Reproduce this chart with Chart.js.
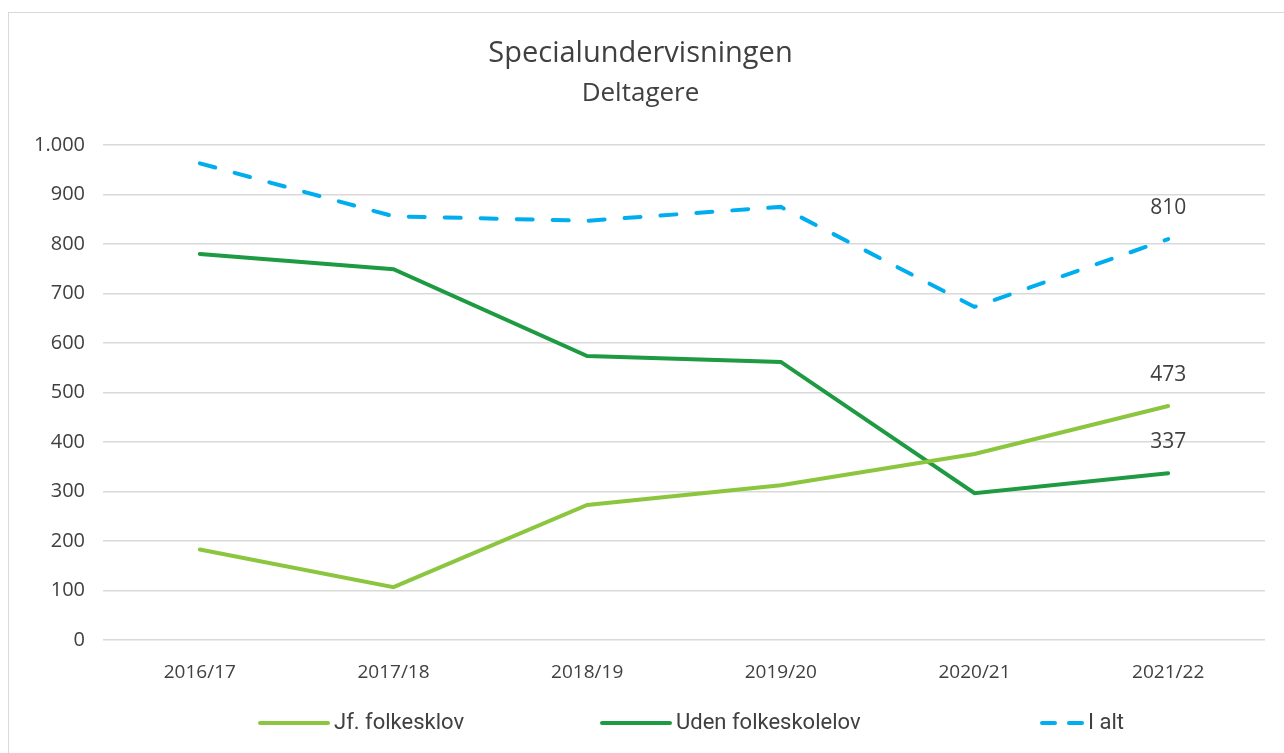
<!DOCTYPE html>
<html>
<head>
<meta charset="utf-8">
<script src="https://cdn.jsdelivr.net/npm/chart.js@4"></script>
<style>
  html, body { margin: 0; padding: 0; background: #fff; }
  #box { position: absolute; left: 8px; top: 12px; width: 1290px; height: 760px; border: 1px solid #d9d9d9; box-sizing: border-box; }
  #wrap { position: absolute; left: 0; top: 0; width: 1284px; height: 753px; }
</style>
</head>
<body>
<div id="box"></div>
<div id="wrap"><canvas id="chart" width="1284" height="753"></canvas></div>
<script>
// DATA
var years = ['2016/17', '2017/18', '2018/19', '2019/20', '2020/21', '2021/22'];
var jfFolkeskolov = [183, 107, 273, 313, 376, 473];
var udenFolkeskolelov = [780, 749, 574, 562, 297, 337];
var iAlt = [963, 856, 847, 875, 673, 810];

// label only the last point of each line
var lastLabels = {
    id: 'lastLabels',
    afterDatasetsDraw: function(chart) {
        var ctx = chart.ctx;
        ctx.save();
        ctx.font = '21px "Open Sans"';
        ctx.fillStyle = '#404040';
        ctx.textAlign = 'center';
        ctx.textBaseline = 'middle';
        chart.data.datasets.forEach(function(ds, i) {
            var meta = chart.getDatasetMeta(i);
            var pt = meta.data[meta.data.length - 1];
            var v = ds.data[ds.data.length - 1];
            ctx.fillText(v, pt.x, pt.y - 31);
        });
        ctx.restore();
    }
};

// legend drawn like the excel one (wide gaps, one row)
var legendStarts = [258, 600, 1040];
var bottomLegend = {
    id: 'bottomLegend',
    afterDraw: function(chart) {
        var ctx = chart.ctx;
        var y = 723;
        ctx.save();
        ctx.font = '22px Roboto';
        ctx.textBaseline = 'middle';
        ctx.textAlign = 'left';
        chart.data.datasets.forEach(function(ds, i) {
            var x = legendStarts[i];
            var w = ds.borderDash ? 44 : 72;
            ctx.strokeStyle = ds.borderColor;
            ctx.lineWidth = ds.borderWidth;
            ctx.lineCap = 'round';
            ctx.setLineDash(ds.borderDash ? [13, 14] : []);
            ctx.beginPath();
            ctx.moveTo(x + 2, y);
            ctx.lineTo(x + w - 2, y);
            ctx.stroke();
            ctx.fillStyle = '#404040';
            ctx.fillText(ds.label, x + w + 4, y);
        });
        ctx.restore();
    }
};

var canvas = document.getElementById('chart');
var context = canvas.getContext('2d');
var chart = new Chart(context, {
    type: 'line',
    data: {
        labels: years,
        datasets: [{
            label: 'Jf. folkesklov',
            data: jfFolkeskolov,
            borderColor: '#8cc63f',
            backgroundColor: '#8cc63f',
            borderWidth: 4,
            pointRadius: 0,
            borderCapStyle: 'round'
        }, {
            label: 'Uden folkeskolelov',
            data: udenFolkeskolelov,
            borderColor: '#1e9a43',
            backgroundColor: '#1e9a43',
            borderWidth: 4,
            pointRadius: 0,
            borderCapStyle: 'round'
        }, {
            label: 'I alt',
            data: iAlt,
            borderColor: '#00aeef',
            backgroundColor: '#00aeef',
            borderWidth: 4,
            borderDash: [16, 20],
            borderCapStyle: 'round',
            pointRadius: 0
        }]
    },
    options: {
        responsive: false,
        animation: false,
        layout: { padding: { left: 16, right: 19, top: 24, bottom: 56 } },
        plugins: {
            title: {
                display: true,
                text: 'Specialundervisningen',
                color: '#404040',
                font: { family: 'Open Sans', size: 29, weight: 'normal' },
                padding: { top: 12, bottom: 2 }
            },
            subtitle: {
                display: true,
                text: 'Deltagere',
                color: '#404040',
                font: { family: 'Open Sans', size: 26, weight: 'normal' },
                padding: { top: 5, bottom: 36 }
            },
            legend: { display: false },
            tooltip: { enabled: false }
        },
        scales: {
            y: {
                min: 0,
                max: 1000,
                ticks: {
                    stepSize: 100,
                    color: '#404040',
                    font: { family: 'Open Sans', size: 20 },
                    padding: 18,
                    callback: function(v) { return v.toLocaleString('da-DK'); }
                },
                grid: { color: '#d9d9d9', lineWidth: 1.5, drawTicks: false },
                border: { display: false }
            },
            x: {
                offset: true,
                ticks: {
                    color: '#404040',
                    font: { family: 'Open Sans', size: 19 },
                    padding: 13
                },
                grid: { display: false },
                border: { display: false }
            }
        }
    },
    plugins: [lastLabels, bottomLegend]
});
</script>
</body>
</html>
